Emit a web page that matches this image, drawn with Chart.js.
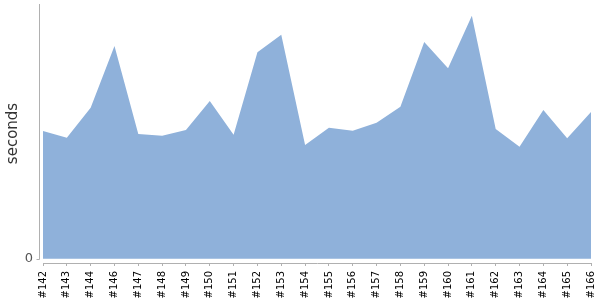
<!DOCTYPE html>
<html>
<head>
<meta charset="utf-8">
<script src="https://cdn.jsdelivr.net/npm/chart.js@4"></script>
<style>
  html,body{margin:0;padding:0;background:#fff;}
  #wrap{width:600px;height:300px;}
</style>
</head>
<body>
<div id="wrap"><canvas id="areaChart" width="600" height="300"></canvas></div>
<script>
var builds = ['#142','#143','#144','#146','#147','#148','#149','#150','#151','#152','#153','#154',
              '#155','#156','#157','#158','#159','#160','#161','#162','#163','#164','#165','#166'];
var seconds = [150.4,142.5,177.9,250.5,146.9,144.9,151.6,185.8,146.1,243.1,263.9,133.9,
               154.3,150.8,160.2,179.1,255.3,224.3,286.2,152.8,131.9,175.2,141.8,172.8];
var yTicks = [0];

// y axis line sits a little left of the plot, as in the original
var yAxisLine = {
  id: 'yAxisLine',
  afterDraw: function(chart){
    var ctx = chart.ctx, a = chart.chartArea, y = chart.scales.y;
    var x = a.left - 3.5, y0 = Math.round(y.getPixelForValue(0)) + 0.5;
    ctx.save();
    ctx.strokeStyle = '#b0b0b0';
    ctx.lineWidth = 1;
    ctx.beginPath();
    ctx.moveTo(x, a.top);
    ctx.lineTo(x, y0);
    ctx.moveTo(x - 3, y0);
    ctx.lineTo(x, y0);
    ctx.stroke();
    ctx.restore();
  }
};

new Chart('areaChart', {
  type: 'line',
  data: {
    labels: builds,
    datasets: [{
      data: seconds,
      backgroundColor: 'rgb(143,177,218)',
      borderWidth: 0,
      pointRadius: 0,
      tension: 0,
      fill: 'origin'
    }]
  },
  options: {
    responsive: false,
    animation: false,
    layout: {padding: {top: 4, right: 9, left: 0, bottom: 0}},
    plugins: {legend: {display: false}, tooltip: {enabled: false}},
    scales: {
      x: {
        offset: false,
        border: {color: '#b0b0b0'},
        grid: {drawOnChartArea: false, tickLength: 3, color: '#b0b0b0'},
        ticks: {
          autoSkip: false, maxRotation: 90, minRotation: 90,
          color: '#000', padding: 5,
          font: {family: 'DejaVu Sans', size: 10}
        },
        afterFit: function(s){ s.height = 37; s.paddingLeft = 0; s.paddingRight = 0; }
      },
      y: {
        min: -5, max: 300,
        border: {display: false},
        grid: {display: false, tickLength: 0},
        afterBuildTicks: function(s){ s.ticks = yTicks.map(function(v){ return {value: v}; }); },
        ticks: {color: '#555', padding: 10, font: {family: 'DejaVu Sans', size: 13}},
        title: {display: true, text: 'seconds', color: '#333', padding: {top: 4, bottom: 0},
                font: {family: 'DejaVu Sans', size: 15}},
        afterFit: function(s){ s.width = 43; s.paddingTop = 0; s.paddingBottom = 0; }
      }
    }
  },
  plugins: [yAxisLine]
});
</script>
</body>
</html>
